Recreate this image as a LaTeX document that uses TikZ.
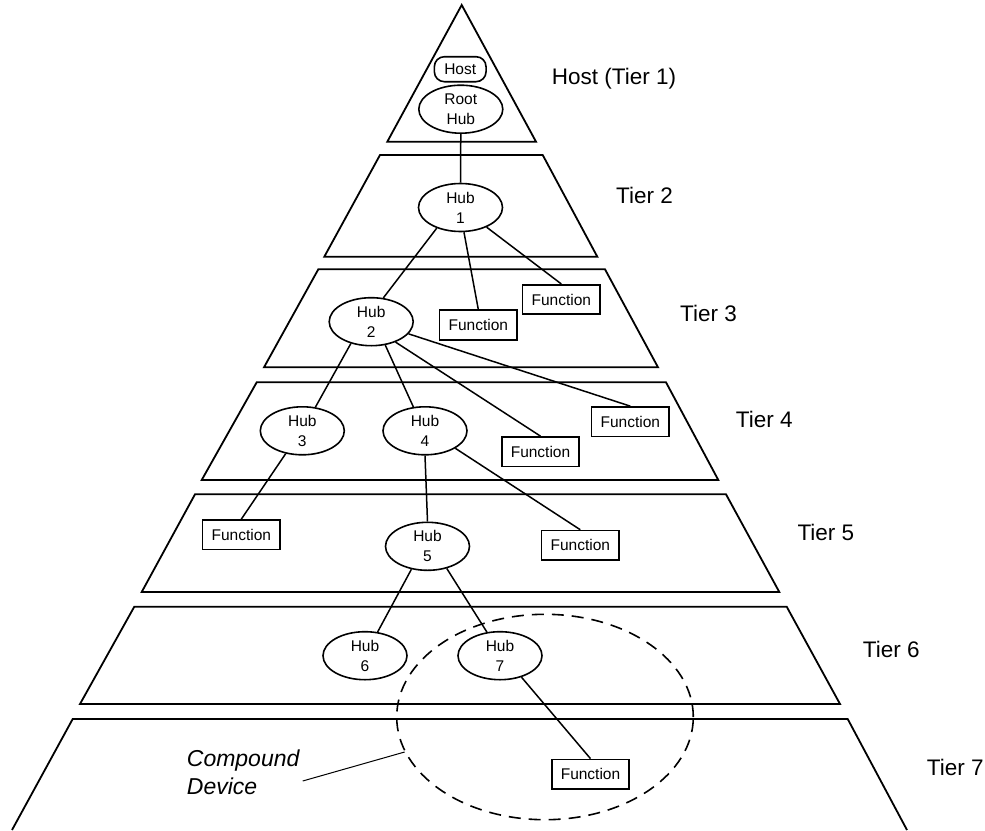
\documentclass[tikz,border=0pt]{standalone}
\usepackage{fontspec}
\setmainfont{Liberation Sans}
\usetikzlibrary{shapes.geometric}
\tikzset{
  tier/.style={line width=1.8pt, line join=miter},
  hub/.style={draw, ellipse, line width=1.6pt, inner sep=0pt, minimum width=84pt,
    minimum height=48pt, align=center, font=\fontsize{15.5pt}{20pt}\selectfont},
  func/.style={draw, rectangle, line width=1.6pt, inner sep=0pt, minimum width=77.5pt,
    minimum height=29.5pt, font=\fontsize{15.5pt}{19pt}\selectfont},
  tierlabel/.style={anchor=west, inner sep=0pt, font=\fontsize{22.5pt}{27pt}\selectfont},
}
\begin{document}
\begin{tikzpicture}[x=1pt, y=-1pt]
      \useasboundingbox (0,0) rectangle (985,830);
      \draw[tier] (461.7,5) -- (536,141.7) -- (387.3,141.7) -- cycle;
      \draw[tier] (380,155) -- (542.7,155) -- (597.3,256.7) -- (324.3,256.7) -- cycle;
      \draw[tier] (318.3,269.3) -- (605,269.3) -- (658,367.3) -- (264,367.3) -- cycle;
      \draw[tier] (256.7,382.3) -- (666,382.3) -- (718.3,480) -- (201.7,480) -- cycle;
      \draw[tier] (195,494.3) -- (726,494.3) -- (779.3,592) -- (141.7,592) -- cycle;
      \draw[tier] (134.3,606.7) -- (786.7,606.7) -- (840,704) -- (80,704) -- cycle;
      \draw[tier] (12,830) -- (72.7,719) -- (847.7,719) -- (907,830);
      \draw
        (551.7,79) node[tierlabel] (t1){Host (Tier 1)}
        (616,195.8) node[tierlabel] (t2){Tier 2}
        (680,313) node[tierlabel] (t3){Tier 3}
        (735.7,419.5) node[tierlabel] (t4){Tier 4}
        (797.3,532.5) node[tierlabel] (t5){Tier 5}
        (862.7,649.2) node[tierlabel] (t6){Tier 6}
        (926.7,767.5) node[tierlabel] (t7){Tier 7};
      \node[draw, line width=1.6pt, rounded corners=10pt, inner sep=0pt, minimum width=51.7pt,
        minimum height=25pt, font=\fontsize{15.5pt}{19pt}\selectfont] (host) at (460.2,69.2) {Host};
      \draw
        (460.8,109.2) node[hub] (root){Root\\Hub}
        (460.5,207.5) node[hub] (hub1){Hub\\1}
        (371.2,321.7) node[hub] (hub2){Hub\\2}
        (302.3,430.8) node[hub] (hub3){Hub\\3}
        (425,430.8) node[hub] (hub4){Hub\\4}
        (427.5,546.3) node[hub] (hub5){Hub\\5}
        (365,655.7) node[hub] (hub6){Hub\\6}
        (500,655.7) node[hub] (hub7){Hub\\7};
      \draw
        (478.3,325) node[func] (f3a){Function}
        (561.3,299.5) node[func] (f3b){Function}
        (540.5,451.7) node[func] (f4a){Function}
        (630.3,421.7) node[func] (f4b){Function}
        (241.3,534.7) node[func] (f5a){Function}
        (580.3,545.3) node[func] (f5b){Function}
        (590.5,774.2) node[func] (f7){Function};
      \begin{scope}[line width=1.5pt]
        \draw (root.south) to (hub1.north);
        \draw (hub1.221) to (hub2.63);
        \draw (hub1.278) to (f3a.north);
        \draw (hub1.323) to (f3b.north);
        \draw (hub2.227) to (hub3.61);
        \draw (hub2.301) to (hub4.116);
        \draw (hub2.320) to (f4a.north);
        \draw (hub2.342) to (f4b.north);
        \draw (hub3.234) to (f5a.north);
        \draw (hub4.south) to (hub5.north);
        \draw (hub4.330) to (f5b.north);
        \draw (hub5.235) to (hub6.62);
        \draw (hub5.311) to (hub7.119);
        \draw (hub7.315) to (f7.north);
      \end{scope}
      \node[draw, ellipse, dash pattern=on 12pt off 8pt, line width=1.6pt, inner sep=0pt,
        minimum width=296.6pt, minimum height=205.4pt] (cdev) at (545,717) {};
      \node[anchor=west, inner sep=0pt, align=left,
        font=\fontsize{23pt}{28.3pt}\selectfont\itshape] (cdtext) at (186.7,772.5) {Compound\\Device};
      \coordinate (cdfoot) at (302.7,781);
      \draw[line width=1pt] (cdfoot) to (cdev.194);
    \end{tikzpicture}
\end{document}
